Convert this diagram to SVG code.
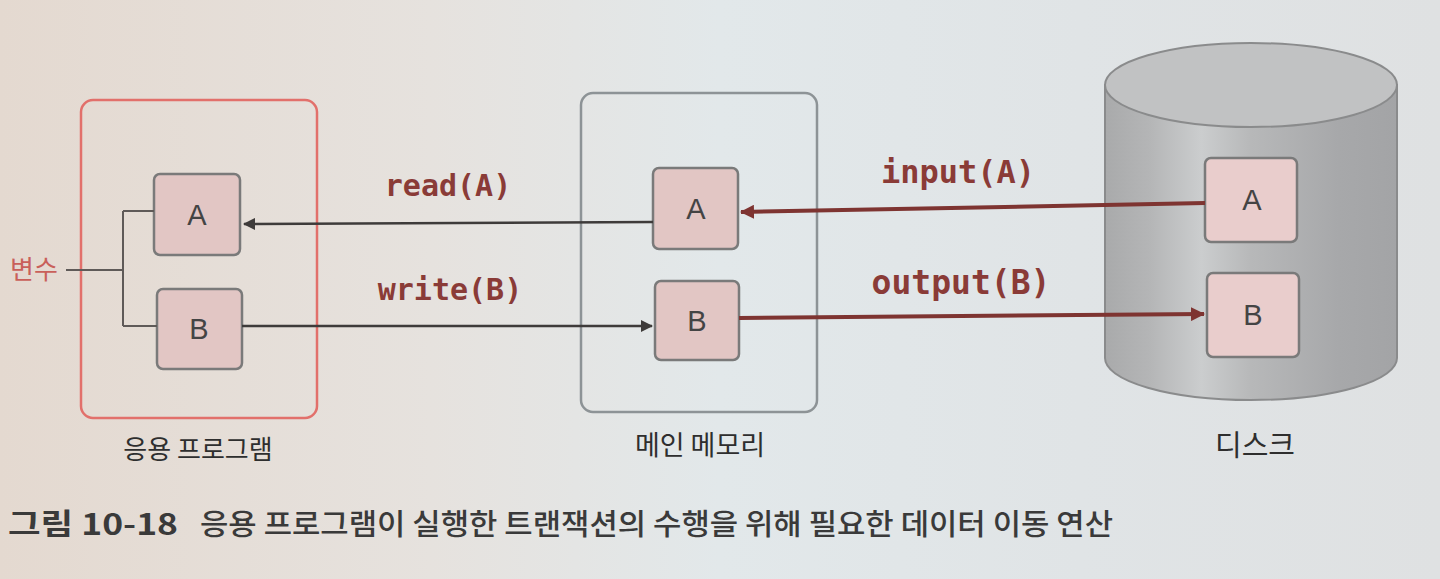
<svg xmlns="http://www.w3.org/2000/svg" width="1440" height="579" viewBox="0 0 1440 579">
<defs>
<linearGradient id="bg" x1="0" y1="0" x2="1" y2="0">
<stop offset="0" stop-color="#e4d9d0"/>
<stop offset="0.3" stop-color="#e6e2de"/>
<stop offset="0.5" stop-color="#e2e8ea"/>
<stop offset="0.75" stop-color="#e0e4e6"/>
<stop offset="1" stop-color="#dfe1e2"/>
</linearGradient>
<linearGradient id="cyl" x1="0" y1="0" x2="1" y2="0">
<stop offset="0" stop-color="#a9aaab"/>
<stop offset="0.15" stop-color="#b4b5b6"/>
<stop offset="0.33" stop-color="#cbcdce"/>
<stop offset="0.5" stop-color="#b7b8b9"/>
<stop offset="0.8" stop-color="#a7a8aa"/>
<stop offset="1" stop-color="#a3a4a6"/>
</linearGradient>
<marker id="ahDark" markerWidth="12" markerHeight="12" refX="11" refY="6" orient="auto" markerUnits="userSpaceOnUse">
<path d="M0,0 L12,6 L0,12 Z" fill="#3e3b3a"/>
</marker>
<marker id="ahRed" markerWidth="14" markerHeight="14" refX="13" refY="7" orient="auto" markerUnits="userSpaceOnUse">
<path d="M0,0 L14,7 L0,14 Z" fill="#7e3431"/>
</marker>
</defs>
<style>
.cell{fill:#e2c6c4;stroke:#7a7a7a;stroke-width:2.5}
.dcell{fill:#e9cdcc;stroke:#7a7a7a;stroke-width:2.5}
.cellText{font-family:"Liberation Sans","DejaVu Sans",sans-serif;font-size:29px;fill:#444;text-anchor:middle}
.label{font-family:"Noto Sans CJK KR","Noto Sans",sans-serif;fill:#2e2e2e;text-anchor:middle}
.code{font-family:"DejaVu Sans Mono","Liberation Mono",monospace;font-weight:bold;fill:#8a3b37;text-anchor:middle}
.dark{stroke:#3e3b3a;stroke-width:2.5;fill:none}
.red{stroke:#7e3431;stroke-width:4;fill:none}
.cap{font-family:"Noto Sans CJK KR","Noto Sans",sans-serif;font-size:29px;fill:#3a3a3a}
</style>
<rect width="1440" height="579" fill="url(#bg)"/>

<g id="app">
<rect x="81" y="100" width="236" height="318" rx="12" fill="none" stroke="#e2706b" stroke-width="2.5"/>
<g id="appA">
<rect class="cell" x="154" y="174" width="86" height="81" rx="6"/>
<text class="cellText" x="197" y="225">A</text>
</g>
<g id="appB">
<rect class="cell" x="157" y="289" width="85" height="80" rx="6"/>
<text class="cellText" x="199" y="339">B</text>
</g>
<text class="label" x="198" y="459" font-size="26">응용 프로그램</text>
</g>

<g id="variable">
<text x="34" y="279" font-family="'Noto Sans CJK KR','Noto Sans',sans-serif" font-size="26" fill="#c9605a" text-anchor="middle">변수</text>
<path d="M66,270 L123,270 M123,211 L123,326 M123,211 L154,211 M123,326 L157,326" stroke="#5f5a58" stroke-width="2" fill="none"/>
</g>

<g id="memory">
<rect x="581" y="93" width="236" height="319" rx="12" fill="none" stroke="#8d9396" stroke-width="2.5"/>
<g id="memA">
<rect class="cell" x="653" y="168" width="85" height="81" rx="6"/>
<text class="cellText" x="696" y="219">A</text>
</g>
<g id="memB">
<rect class="cell" x="655" y="281" width="84" height="79" rx="6"/>
<text class="cellText" x="697" y="331">B</text>
</g>
<text class="label" x="700" y="455" font-size="27">메인 메모리</text>
</g>

<g id="disk">
<path d="M1105,85 L1105,358 A146,42 0 0 0 1397,358 L1397,85 Z" fill="url(#cyl)" stroke="#8a8b8c" stroke-width="2"/>
<ellipse cx="1251" cy="85" rx="146" ry="42" fill="#c1c2c3" stroke="#8a8b8c" stroke-width="2"/>
<g id="diskA">
<rect class="dcell" x="1205" y="158" width="92" height="84" rx="6"/>
<text class="cellText" x="1252" y="210">A</text>
</g>
<g id="diskB">
<rect class="dcell" x="1207" y="273" width="92" height="84" rx="6"/>
<text class="cellText" x="1253" y="325">B</text>
</g>
<text class="label" x="1255" y="456" font-size="29">디스크</text>
</g>

<g id="connectors">
<line class="dark" x1="653" y1="222" x2="244" y2="224" marker-end="url(#ahDark)"/>
<line class="dark" x1="242" y1="326" x2="652" y2="326" marker-end="url(#ahDark)"/>
<line class="red" x1="1205" y1="203" x2="741" y2="212" marker-end="url(#ahRed)"/>
<line class="red" x1="739" y1="318" x2="1204" y2="314" marker-end="url(#ahRed)"/>
<text class="code" x="448" y="196" font-size="30">read(A)</text>
<text class="code" x="450" y="300" font-size="30">write(B)</text>
<text class="code" x="958" y="183" font-size="32">input(A)</text>
<text class="code" x="961" y="294" font-size="33">output(B)</text>
</g>

<g id="caption">
<text class="cap" x="8" y="535" font-weight="bold" fill="#2f2f2f" textLength="170" lengthAdjust="spacingAndGlyphs">그림 10-18</text>
<text class="cap" x="200" y="535" font-weight="500" textLength="913" lengthAdjust="spacingAndGlyphs">응용 프로그램이 실행한 트랜잭션의 수행을 위해 필요한 데이터 이동 연산</text>
</g>
</svg>
